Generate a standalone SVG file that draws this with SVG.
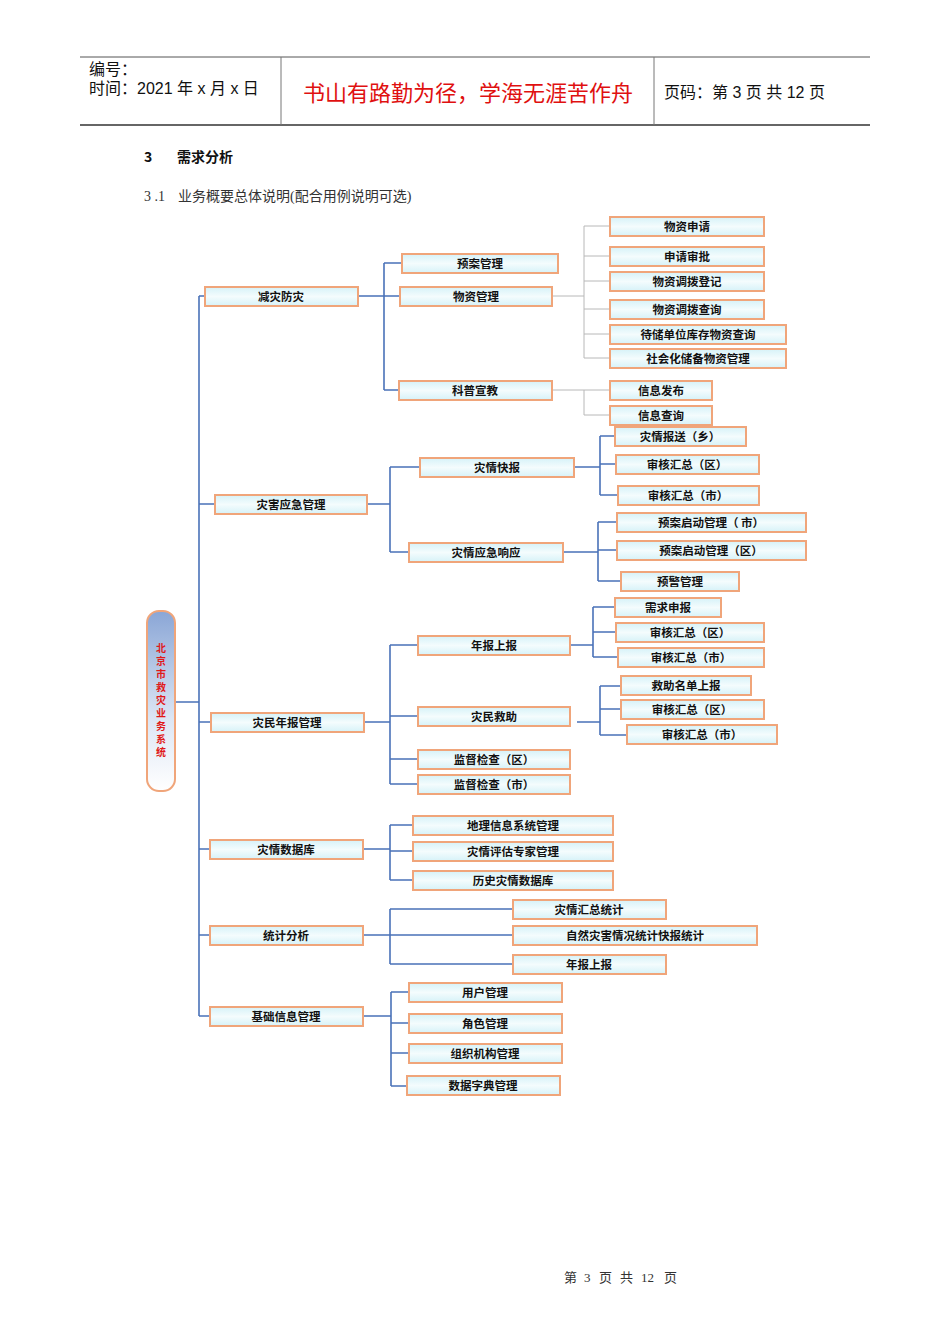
<svg xmlns="http://www.w3.org/2000/svg" width="950" height="1344" viewBox="0 0 950 1344">
<style>
.b{fill:url(#g);stroke:#f0a57a;stroke-width:2}
.t{font-family:"Noto Sans CJK SC",sans-serif;font-size:11.5px;font-weight:bold;fill:#111;text-anchor:middle;dominant-baseline:central}
.c{stroke:#4a72b8;stroke-width:1.6;fill:none}
.gc{stroke:#b8b8b8;stroke-width:1;fill:none}
.h{font-family:"Liberation Sans","Noto Sans CJK SC",sans-serif;font-size:16px;fill:#111}
.f{font-family:"Liberation Serif","Noto Sans CJK SC",serif;font-size:13px;fill:#333}
.r{font-family:"Noto Sans CJK SC",sans-serif;font-size:10px;font-weight:bold;fill:#e01818;text-anchor:middle}
</style>
<defs>
<linearGradient id="g" x1="0" y1="0" x2="0" y2="1"><stop offset="0" stop-color="#d6f2f8"/><stop offset="0.5" stop-color="#f4fcfd"/><stop offset="1" stop-color="#d6f2f8"/></linearGradient>
<linearGradient id="rg" x1="0" y1="0" x2="0" y2="1"><stop offset="0" stop-color="#8aa6d6"/><stop offset="0.6" stop-color="#dde6f4"/><stop offset="1" stop-color="#ffffff"/></linearGradient>
</defs>
<rect width="950" height="1344" fill="#fff"/>
<g id="header">
<line x1="80" y1="57" x2="870" y2="57" stroke="#555" stroke-width="1"/>
<line x1="80" y1="125" x2="870" y2="125" stroke="#333" stroke-width="1.5"/>
<line x1="281" y1="57" x2="281" y2="125" stroke="#777"/>
<line x1="654" y1="57" x2="654" y2="125" stroke="#777"/>
<text class="h" x="89" y="75">编号：</text>
<text class="h" x="89" y="94">时间：2021 年 x 月 x 日</text>
<text x="468" y="101" font-family="Noto Sans CJK SC,sans-serif" font-size="22" fill="#e01010" text-anchor="middle">书山有路勤为径，学海无涯苦作舟</text>
<text class="h" x="664" y="98">页码：第 3 页  共 12 页</text>
<text x="144" y="162" font-family="Noto Sans CJK SC,sans-serif" font-size="14" font-weight="bold" fill="#111">3</text>
<text x="177" y="162" font-family="Noto Sans CJK SC,sans-serif" font-size="14" font-weight="bold" fill="#111">需求分析</text>
<text x="144" y="201" font-family="Liberation Serif,Noto Sans CJK SC,serif" font-size="14" fill="#333">3 .1</text>
<text x="178" y="201" font-family="Liberation Serif,Noto Sans CJK SC,serif" font-size="14" fill="#333">业务概要总体说明(配合用例说明可选)</text>
<text class="f" x="564" y="1282">第</text><text class="f" x="584" y="1282">3</text><text class="f" x="599" y="1282">页</text><text class="f" x="620" y="1282">共</text><text class="f" x="641" y="1282">12</text><text class="f" x="664" y="1282">页</text>
</g>
<g id="connectors">
<path class="c" d="M175 702H199M199 296V1016M199 296H205M199 504H215M199 722H211M199 849H210M199 935H210M199 1016H210"/>
<path class="c" d="M358 296H400M384 263V390M384 263H402M384 390H399"/>
<path class="gc" d="M552 296H584M584 226V358M584 226H610M584 256H610M584 281H610M584 309H610M584 334H610M584 358H610M552 390H584M584 390V415M584 390H610M584 415H610"/>
<path class="c" d="M367 504H390M390 467V552M390 467H420M390 552H409"/>
<path class="c" d="M574 467H600M600 436V495M600 436H615M600 464H616M600 495H618"/>
<path class="c" d="M563 552H598M598 522V581M598 522H617M598 550H617M598 581H621"/>
<path class="c" d="M364 722H390M390 645V784M390 645H418M390 716H418M390 759H418M390 784H418"/>
<path class="c" d="M570 645H593M593 607V657M593 607H615M593 632H616M593 657H618"/>
<path class="c" d="M577 722H600M600 686V735M600 686H621M600 709H621M600 735H627"/>
<path class="c" d="M363 849H390M390 825V880M390 825H413M390 851H413M390 880H413"/>
<path class="c" d="M363 935H390M390 909V964M390 909H513M390 935H513M390 964H513"/>
<path class="c" d="M363 1016H391M391 992V1086M391 992H409M391 1023H409M391 1053H409M391 1086H407"/>
</g>
<g id="root">
<rect x="147" y="611" width="28" height="180" rx="12" fill="url(#rg)" stroke="#f0a57a" stroke-width="2"/>
<text class="r" x="161" y="652">北</text><text class="r" x="161" y="665">京</text><text class="r" x="161" y="678">市</text><text class="r" x="161" y="691">救</text><text class="r" x="161" y="704">灾</text><text class="r" x="161" y="717">业</text><text class="r" x="161" y="730">务</text><text class="r" x="161" y="743">系</text><text class="r" x="161" y="756">统</text>
</g>
<g id="n1"><rect class="b" x="205" y="287" width="153" height="19"/><text class="t" x="281" y="296">减灾防灾</text></g>
<g id="n2"><rect class="b" x="402" y="254" width="156" height="19"/><text class="t" x="480" y="263">预案管理</text></g>
<g id="n3"><rect class="b" x="400" y="287" width="152" height="19"/><text class="t" x="476" y="296">物资管理</text></g>
<g id="n4"><rect class="b" x="399" y="381" width="153" height="19"/><text class="t" x="475" y="390">科普宣教</text></g>
<g id="n5"><rect class="b" x="610" y="217" width="154" height="19"/><text class="t" x="687" y="226">物资申请</text></g>
<g id="n6"><rect class="b" x="610" y="247" width="154" height="19"/><text class="t" x="687" y="256">申请审批</text></g>
<g id="n7"><rect class="b" x="610" y="272" width="154" height="19"/><text class="t" x="687" y="281">物资调拨登记</text></g>
<g id="n8"><rect class="b" x="610" y="300" width="154" height="19"/><text class="t" x="687" y="309">物资调拨查询</text></g>
<g id="n9"><rect class="b" x="610" y="325" width="176" height="19"/><text class="t" x="698" y="334">待储单位库存物资查询</text></g>
<g id="n10"><rect class="b" x="610" y="349" width="176" height="19"/><text class="t" x="698" y="358">社会化储备物资管理</text></g>
<g id="n11"><rect class="b" x="610" y="381" width="102" height="19"/><text class="t" x="661" y="390">信息发布</text></g>
<g id="n12"><rect class="b" x="610" y="406" width="102" height="19"/><text class="t" x="661" y="415">信息查询</text></g>
<g id="n13"><rect class="b" x="215" y="495" width="152" height="19"/><text class="t" x="291" y="504">灾害应急管理</text></g>
<g id="n14"><rect class="b" x="420" y="458" width="154" height="19"/><text class="t" x="497" y="467">灾情快报</text></g>
<g id="n15"><rect class="b" x="409" y="543" width="154" height="19"/><text class="t" x="486" y="552">灾情应急响应</text></g>
<g id="n16"><rect class="b" x="615" y="427" width="131" height="19"/><text class="t" x="680" y="436">灾情报送（乡）</text></g>
<g id="n17"><rect class="b" x="616" y="455" width="143" height="19"/><text class="t" x="687" y="464">审核汇总（区）</text></g>
<g id="n18"><rect class="b" x="618" y="486" width="141" height="19"/><text class="t" x="688" y="495">审核汇总（市）</text></g>
<g id="n19"><rect class="b" x="617" y="513" width="189" height="19"/><text class="t" x="711" y="522">预案启动管理（ 市）</text></g>
<g id="n20"><rect class="b" x="617" y="541" width="189" height="19"/><text class="t" x="711" y="550">预案启动管理（区）</text></g>
<g id="n21"><rect class="b" x="621" y="572" width="118" height="19"/><text class="t" x="680" y="581">预警管理</text></g>
<g id="n22"><rect class="b" x="211" y="713" width="153" height="19"/><text class="t" x="287" y="722">灾民年报管理</text></g>
<g id="n23"><rect class="b" x="418" y="636" width="152" height="19"/><text class="t" x="494" y="645">年报上报</text></g>
<g id="n24"><rect class="b" x="418" y="707" width="152" height="19"/><text class="t" x="494" y="716">灾民救助</text></g>
<g id="n25"><rect class="b" x="418" y="750" width="152" height="19"/><text class="t" x="494" y="759">监督检查（区）</text></g>
<g id="n26"><rect class="b" x="418" y="775" width="152" height="19"/><text class="t" x="494" y="784">监督检查（市）</text></g>
<g id="n27"><rect class="b" x="615" y="598" width="106" height="19"/><text class="t" x="668" y="607">需求申报</text></g>
<g id="n28"><rect class="b" x="616" y="623" width="148" height="19"/><text class="t" x="690" y="632">审核汇总（区）</text></g>
<g id="n29"><rect class="b" x="618" y="648" width="146" height="19"/><text class="t" x="691" y="657">审核汇总（市）</text></g>
<g id="n30"><rect class="b" x="621" y="676" width="130" height="19"/><text class="t" x="686" y="685">救助名单上报</text></g>
<g id="n31"><rect class="b" x="621" y="700" width="143" height="19"/><text class="t" x="692" y="709">审核汇总（区）</text></g>
<g id="n32"><rect class="b" x="627" y="725" width="150" height="19"/><text class="t" x="702" y="734">审核汇总（市）</text></g>
<g id="n33"><rect class="b" x="210" y="840" width="153" height="19"/><text class="t" x="286" y="849">灾情数据库</text></g>
<g id="n34"><rect class="b" x="413" y="816" width="200" height="19"/><text class="t" x="513" y="825">地理信息系统管理</text></g>
<g id="n35"><rect class="b" x="413" y="842" width="200" height="19"/><text class="t" x="513" y="851">灾情评估专家管理</text></g>
<g id="n36"><rect class="b" x="413" y="871" width="200" height="19"/><text class="t" x="513" y="880">历史灾情数据库</text></g>
<g id="n37"><rect class="b" x="210" y="926" width="153" height="19"/><text class="t" x="286" y="935">统计分析</text></g>
<g id="n38"><rect class="b" x="513" y="900" width="153" height="19"/><text class="t" x="589" y="909">灾情汇总统计</text></g>
<g id="n39"><rect class="b" x="513" y="926" width="244" height="19"/><text class="t" x="635" y="935">自然灾害情况统计快报统计</text></g>
<g id="n40"><rect class="b" x="513" y="955" width="153" height="19"/><text class="t" x="589" y="964">年报上报</text></g>
<g id="n41"><rect class="b" x="210" y="1007" width="153" height="19"/><text class="t" x="286" y="1016">基础信息管理</text></g>
<g id="n42"><rect class="b" x="409" y="983" width="153" height="19"/><text class="t" x="485" y="992">用户管理</text></g>
<g id="n43"><rect class="b" x="409" y="1014" width="153" height="19"/><text class="t" x="485" y="1023">角色管理</text></g>
<g id="n44"><rect class="b" x="409" y="1044" width="153" height="19"/><text class="t" x="485" y="1053">组织机构管理</text></g>
<g id="n45"><rect class="b" x="407" y="1076" width="153" height="19"/><text class="t" x="483" y="1085">数据字典管理</text></g>
</svg>
